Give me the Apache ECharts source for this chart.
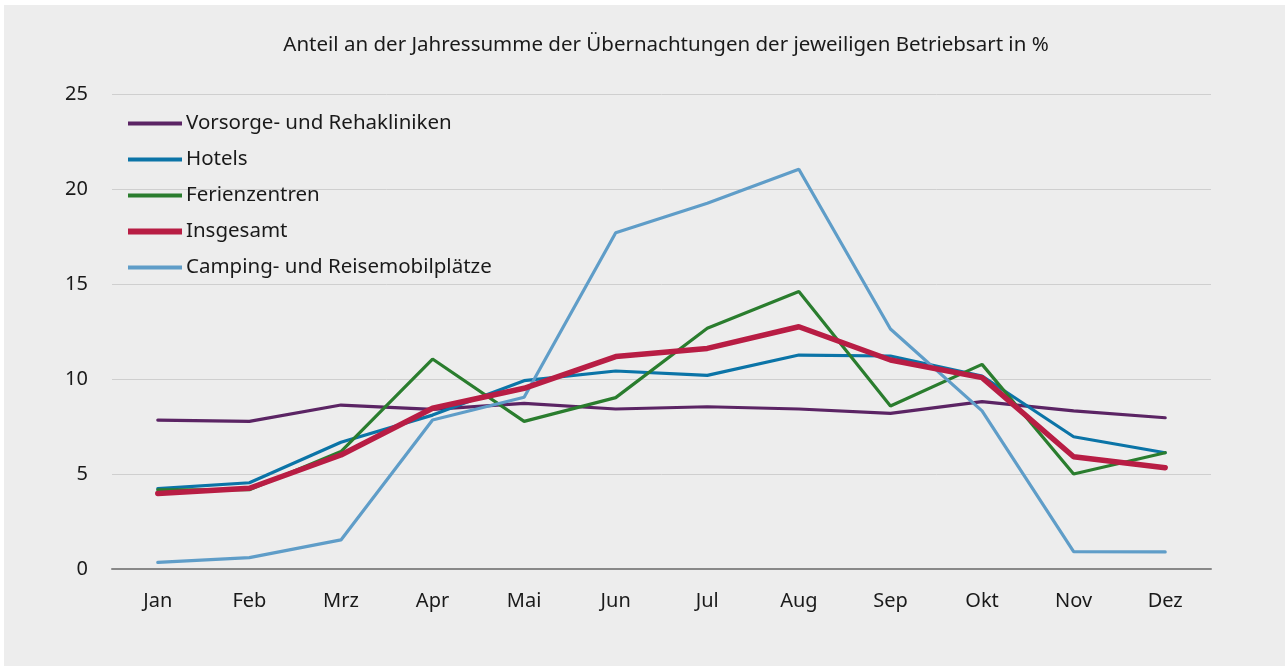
<!DOCTYPE html>
<html>
<head>
<meta charset="utf-8">
<script src="https://cdn.jsdelivr.net/npm/echarts@6/dist/echarts.min.js"></script>
<style>
    html, body{
        margin: 0;
        padding: 0;
        background: #fff;
    }
    .chartBox{
        position: absolute;
        left: 4px;
        top: 5px;
        width: 1281px;
        height: 661px;
        background: #ededed;
    }
    #main{
        width: 1281px;
        height: 661px;
    }
</style>
</head>
<body>
<div class="chartBox">
    <div id="main"></div>
</div>
<script>
// Monate
var months = ['Jan', 'Feb', 'Mrz', 'Apr', 'Mai', 'Jun', 'Jul', 'Aug', 'Sep', 'Okt', 'Nov', 'Dez'];
// Anteil in %
var vorsorge = [7.84, 7.77, 8.63, 8.4, 8.72, 8.42, 8.54, 8.42, 8.19, 8.81, 8.32, 7.96];
var hotels = [4.23, 4.54, 6.67, 8.1, 9.91, 10.42, 10.19, 11.26, 11.21, 10.16, 6.96, 6.12];
var ferienzentren = [4.16, 4.17, 6.18, 11.05, 7.77, 9.02, 12.67, 14.6, 8.58, 10.77, 5.0, 6.12];
var insgesamt = [3.98, 4.25, 6.0, 8.46, 9.51, 11.18, 11.61, 12.75, 11.0, 10.07, 5.91, 5.33];
var camping = [0.35, 0.6, 1.53, 7.84, 9.04, 17.7, 19.25, 21.04, 12.63, 8.32, 0.91, 0.9];

var fontName = '"Noto Sans", sans-serif';
// Legendensymbol: nur ein Strich
var thinIcon = 'path://M0,0L54,0L54,3.8L0,3.8Z';
var thickIcon = 'path://M0,0L54,0L54,6L0,6Z';

function makeLine (name, data, color, width) {
    return {
        name: name,
        type: 'line',
        data: data,
        symbol: 'none',
        lineStyle: {
            color: color,
            width: width,
            cap: 'round'
        },
        itemStyle: {
            color: color
        }
    };
}

var myChart = echarts.init(document.getElementById('main'));
var option = {
    backgroundColor: 'transparent',
    animation: false,
    textStyle: {
        fontFamily: fontName
    },
    title: {
        text: 'Anteil an der Jahressumme der Übernachtungen der jeweiligen Betriebsart in %',
        left: 657,
        textAlign: 'center',
        top: 25,
        textStyle: {
            fontSize: 20.5,
            fontWeight: 'normal',
            color: '#1a1a1a',
            fontFamily: fontName
        }
    },
    legend: {
        orient: 'vertical',
        left: 119,
        top: 103,
        itemWidth: 54,
        itemHeight: 14,
        itemGap: 15,
        symbolKeepAspect: true,
        textStyle: {
            fontSize: 20.5,
            color: '#1a1a1a',
            fontFamily: fontName,
            padding: [0, 0, 0, -1]
        },
        data: [
            {name: 'Vorsorge- und Rehakliniken', icon: thinIcon},
            {name: 'Hotels', icon: thinIcon},
            {name: 'Ferienzentren', icon: thinIcon},
            {name: 'Insgesamt', icon: thickIcon},
            {name: 'Camping- und Reisemobilplätze', icon: thinIcon}
        ]
    },
    grid: {
        left: 108,
        right: 74,
        top: 89,
        bottom: 97,
        containLabel: false
    },
    xAxis: {
        type: 'category',
        boundaryGap: true,
        data: months,
        axisLine: {
            lineStyle: {
                color: '#888',
                width: 2
            }
        },
        axisTick: {
            show: false
        },
        axisLabel: {
            color: '#1a1a1a',
            fontSize: 20,
            margin: 22,
            fontFamily: fontName
        }
    },
    yAxis: {
        type: 'value',
        min: 0,
        max: 25,
        interval: 5,
        axisLine: {
            show: false
        },
        axisTick: {
            show: false
        },
        axisLabel: {
            color: '#1a1a1a',
            fontSize: 20,
            margin: 24,
            fontFamily: fontName
        },
        splitLine: {
            lineStyle: {
                color: '#cfcfcf',
                width: 1
            }
        }
    },
    series: [
        makeLine('Vorsorge- und Rehakliniken', vorsorge, '#5b2464', 3.2),
        makeLine('Hotels', hotels, '#0b74a7', 3.2),
        makeLine('Ferienzentren', ferienzentren, '#2a7d2e', 3.2),
        makeLine('Camping- und Reisemobilplätze', camping, '#5f9dc8', 3.2),
        makeLine('Insgesamt', insgesamt, '#b81d44', 5.5)
    ]
};
myChart.setOption(option);
</script>
</body>
</html>
